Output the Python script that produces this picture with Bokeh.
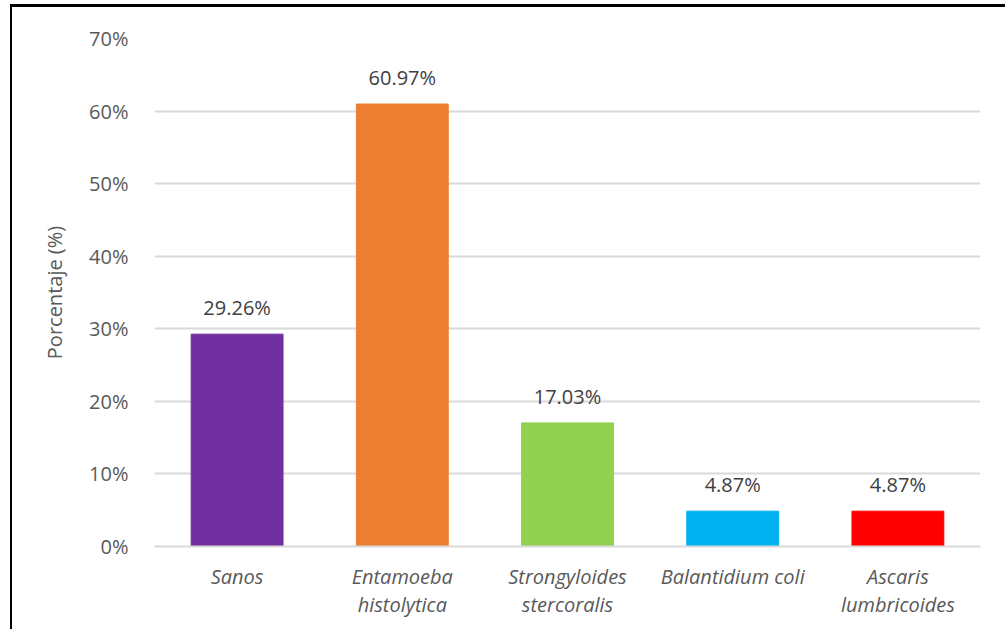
from bokeh.plotting import figure
from bokeh.models import ColumnDataSource, PrintfTickFormatter, FixedTicker, LabelSet
from bokeh.core.properties import value
from bokeh.embed import file_html
from bokeh.resources import INLINE

# Prevalence of intestinal parasites (%)
categories = ["Sanos", "Entamoeba\nhistolytica", "Strongyloides\nstercoralis",
              "Balantidium coli", "Ascaris\nlumbricoides"]
percentages = [29.26, 60.97, 17.03, 4.87, 4.87]
bar_colors = ["#7030A0", "#ED7D31", "#92D050", "#00B0F0", "#FF0000"]
value_labels = [f"{v:.2f}%" for v in percentages]
y_ticks = [0, 10, 20, 30, 40, 50, 60, 70]

FONT = "Open Sans"

source = ColumnDataSource(dict(cat=categories, pct=percentages,
                               color=bar_colors, label=value_labels))

p = figure(x_range=categories, y_range=(0, 70), width=995, height=625,
           output_backend="svg", toolbar_location=None,
           min_border_left=142, min_border_right=27,
           min_border_top=31, min_border_bottom=86)
p.styles = {"margin-left": "10px", "margin-top": "4px",
            "border-left": "2px solid #000000", "border-top": "3px solid #000000"}

p.vbar(x="cat", top="pct", width=0.556, color="color", source=source)

labels = LabelSet(x="cat", y="pct", text="label", source=source,
                  text_align="center", text_baseline="bottom", y_offset=13,
                  text_font=value(FONT), text_font_size="20px", text_color="#404040")
p.add_layout(labels)

p.outline_line_color = None
p.xgrid.grid_line_color = None
p.ygrid.grid_line_color = "#D9D9D9"
p.ygrid.grid_line_width = 2
p.ygrid.ticker = FixedTicker(ticks=y_ticks)

p.yaxis.ticker = FixedTicker(ticks=y_ticks)
p.yaxis.formatter = PrintfTickFormatter(format="%d%%")
p.yaxis.axis_line_color = None
p.yaxis.major_tick_line_color = None
p.yaxis.minor_tick_line_color = None
p.yaxis.major_label_standoff = 20
p.yaxis.major_label_text_font = FONT
p.yaxis.major_label_text_font_size = "20px"
p.yaxis.major_label_text_color = "#595959"
p.yaxis.axis_label = "Porcentaje (%)"
p.yaxis.axis_label_text_font = FONT
p.yaxis.axis_label_text_font_size = "20px"
p.yaxis.axis_label_text_font_style = "normal"
p.yaxis.axis_label_text_color = "#595959"
p.yaxis.axis_label_standoff = 18

p.xaxis.axis_line_color = "#D9D9D9"
p.xaxis.axis_line_width = 2
p.xaxis.major_tick_line_color = None
p.xaxis.minor_tick_line_color = None
p.xaxis.major_label_standoff = 10
p.xaxis.major_label_text_font = FONT
p.xaxis.major_label_text_font_size = "20px"
p.xaxis.major_label_text_font_style = "italic"
p.xaxis.major_label_text_color = "#595959"
p.xaxis.major_label_text_line_height = 1.05

open("out.html", "w").write(file_html(p, INLINE))
